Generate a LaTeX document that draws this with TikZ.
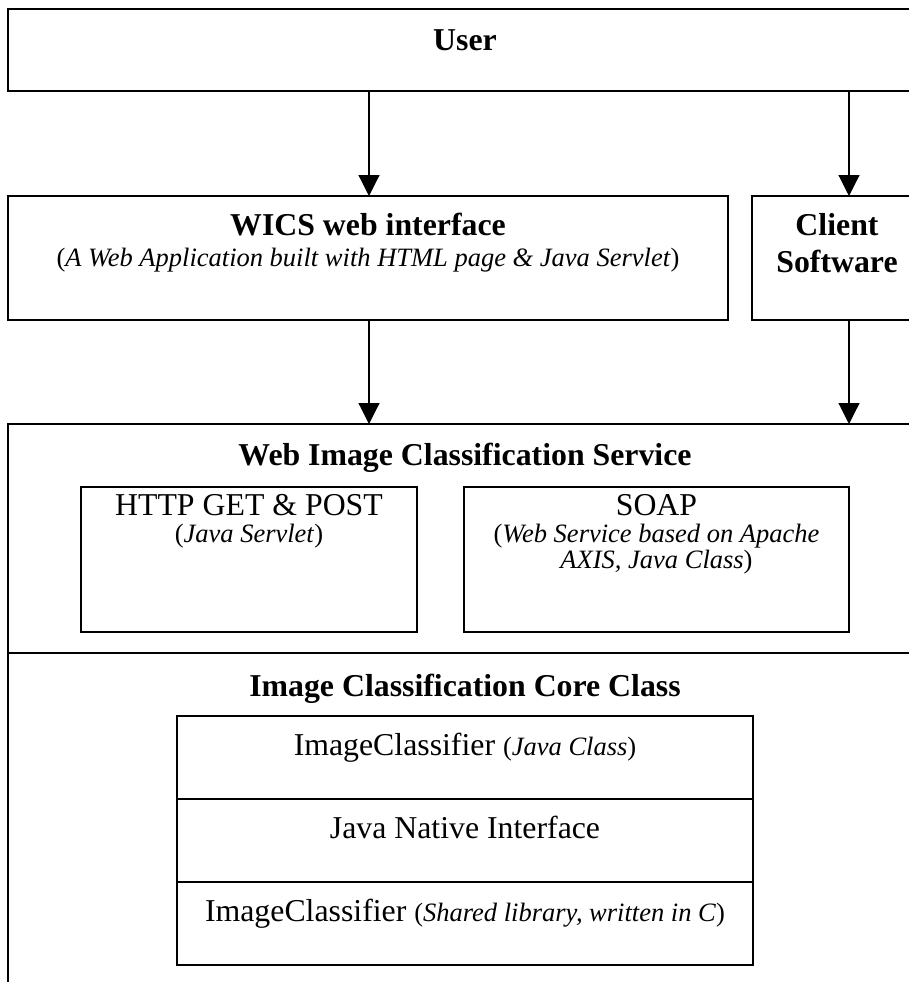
\documentclass[tikz,border=0pt]{standalone}
\usepackage{fontspec}
\setmainfont{Liberation Serif}
\usetikzlibrary{arrows.meta}
\newcommand{\tbold}{\fontsize{31.8}{34}\selectfont\bfseries}
\newcommand{\treg}{\fontsize{31.8}{34}\selectfont}
\newcommand{\tsub}{\fontsize{26.5}{28}\selectfont}
\tikzset{
  box/.style={draw, line width=1.4pt, anchor=north west, inner sep=0pt, outer sep=0pt},
  arr/.style={-{Triangle[length=21pt,width=21pt]}, line width=1.2pt},
  txt/.style={anchor=base, inner sep=0pt},
}
\begin{document}
\begin{tikzpicture}[x=1pt,y=-1pt]
\useasboundingbox (0,0) rectangle (909,982);
\clip (0,0) rectangle (909,982);
% boxes
\node[box, minimum width=914pt, minimum height=82pt] (user) at (8,9) {};
\node[box, minimum width=720pt, minimum height=124pt] (wics) at (8,196) {};
\node[box, minimum width=170pt, minimum height=124pt] (client) at (752,196) {};
\node[box, minimum width=914pt, minimum height=229pt] (wics2) at (8,424) {};
\node[box, minimum width=336pt, minimum height=145pt] (http) at (81,487) {};
\node[box, minimum width=385pt, minimum height=145pt] (soap) at (464,487) {};
\node[box, minimum width=914pt, minimum height=360pt] (core) at (8,653) {};
\node[box, minimum width=576pt, minimum height=83pt] (row1) at (177,716) {};
\node[box, minimum width=576pt, minimum height=83pt] (row2) at (177,799) {};
\node[box, minimum width=576pt, minimum height=83pt] (row3) at (177,882) {};
% texts
\node[txt, font=\tbold] (tuser) at (465,51) {User};
\node[txt, font=\tbold] (twics) at (368,235) {WICS web interface};
\node[txt, font=\tsub] (twicsb) at (368,266) {(\textit{A Web Application built with HTML page \& Java Servlet})};
\node[txt, font=\tbold] (tclient) at (837,235) {Client};
\node[txt, font=\tbold] (tclientb) at (837,272) {Software};
\node[txt, font=\tbold] (tws) at (465,465) {Web Image Classification Service};
\node[txt, font=\treg] (thttp) at (249,515) {HTTP GET \& POST};
\node[txt, font=\tsub] (thttpb) at (249,542) {(\textit{Java Servlet})};
\node[txt, font=\treg] (tsoap) at (656.5,515) {SOAP};
\node[txt, font=\tsub] (tsoapb) at (656.5,542) {(\textit{Web Service based on Apache}};
\node[txt, font=\tsub] (tsoapc) at (656.5,568) {\textit{AXIS, Java Class})};
\node[txt, font=\tbold] (tcore) at (465,696) {Image Classification Core Class};
\node[txt] (tr1) at (465,755) {\treg ImageClassifier \tsub(\textit{Java Class})};
\node[txt, font=\treg] (tr2) at (465,838) {Java Native Interface};
\node[txt] (tr3) at (465,921) {\treg ImageClassifier \tsub(\textit{Shared library, written in C})};
% connectors
\coordinate (ax1) at (369,0);
\coordinate (ax2) at (849,0);
\draw[arr] (ax1 |- user.south) -- (ax1 |- wics.north);
\draw[arr] (ax2 |- user.south) -- (ax2 |- client.north);
\draw[arr] (ax1 |- wics.south) -- (ax1 |- wics2.north);
\draw[arr] (ax2 |- client.south) -- (ax2 |- wics2.north);
\end{tikzpicture}
\end{document}
